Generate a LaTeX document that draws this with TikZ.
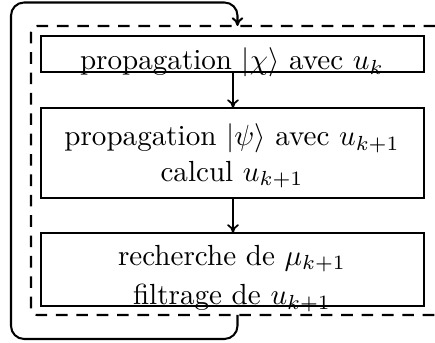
\documentclass[tikz,border=0pt]{standalone}
\usetikzlibrary{arrows.meta}
\begin{document}
\begin{tikzpicture}[x=0.3436pt,y=-0.3436pt,
  stepbox/.style={draw,line width=0.7pt,inner sep=0pt,outer sep=0pt,minimum width=131.6pt},
  txt/.style={anchor=base,inner sep=0pt,outer sep=0pt},
  flow/.style={line width=0.6pt,-{To[length=3pt,width=4pt]}},
  grpbox/.style={line width=0.7pt,dash pattern=on 4pt off 3pt,rounded corners=2pt}]
\useasboundingbox (0,0) rectangle (435,343);
\clip (0,0) rectangle (435,343);
% boxes
\node[stepbox,minimum height=12.37pt] (b1) at (232.5,54) {};
\node[stepbox,minimum height=30.9pt] (b2) at (232.5,153) {};
\node[stepbox,minimum height=25.1pt] (b3) at (232.5,269.5) {};
% texts
\node[txt] (t1) at (232,70) {propagation $|\chi\rangle$ avec $u_k$};
\node[txt] (t2a) at (232,146) {propagation $|\psi\rangle$ avec $u_{k+1}$};
\node[txt] (t2b) at (232,181.5) {calcul $u_{k+1}$};
\node[txt] (t3a) at (232,265.5) {recherche de $\mu_{k+1}$};
\node[txt] (t3b) at (232,305) {filtrage de $u_{k+1}$};
% arrows
\draw[flow] (b1.south -| 233,0) -- (b2.north -| 233,0);
\draw[flow] (b2.south -| 233,0) -- (b3.north -| 233,0);
% dashed group
\draw[grpbox] (31,26) rectangle (450,315);
\coordinate (ls) at (237.5,315);
\coordinate (le) at (237.5,26);
% loop
\draw[flow,line width=0.7pt,rounded corners=4.5pt] (ls) -- (237.5,339) -- (11,339) -- (11,2.5) -- (237.5,2.5) -- (le);
\end{tikzpicture}
\end{document}
